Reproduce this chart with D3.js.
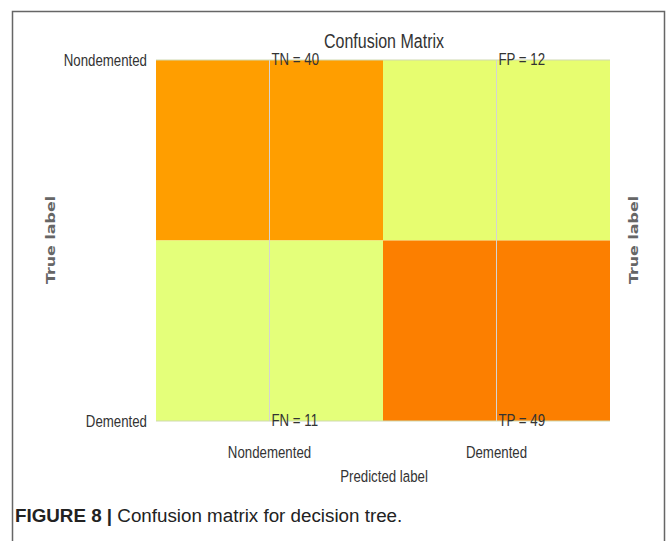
<!DOCTYPE html>
<html>
<head>
<meta charset="utf-8">
<script src="https://cdn.jsdelivr.net/npm/d3@7"></script>
<style>
  body { margin: 0; background: #fff; }
  svg { display: block; }
</style>
</head>
<body>
<svg width="670" height="541"></svg>
<script>
// data
const classes = ["Nondemented", "Demented"];
const counts = [[40, 12], [11, 49]];
const cellNames = [["TN", "FP"], ["FN", "TP"]];
const wistia = ["#e4ff7a", "#ffe81a", "#ffbd00", "#ffa000", "#fc7f00"];

const svg = d3.select("svg");
const FONT = "Liberation Sans, Arial, sans-serif";
const SQUEEZE = 0.78;

// condensed-looking text: squeeze horizontally around anchor point
function label(g, px, py, str, opts = {}) {
  return g.append("text")
    .attr("transform", `translate(${px},${py}) scale(${opts.sx || SQUEEZE},1)`)
    .attr("text-anchor", opts.anchor || "start")
    .attr("dy", opts.dy || null)
    .attr("font-family", FONT)
    .attr("font-size", opts.size || 17)
    .attr("fill", "#333")
    .text(str);
}

// outer frame
svg.append("path")
  .attr("d", "M12.5,541 V11.5 H664.5 V541")
  .attr("fill", "none")
  .attr("stroke", "#666")
  .attr("stroke-width", 1.5);

const x = d3.scaleBand(classes, [156, 610]);
const y = d3.scaleBand(classes, [60, 421]);
const yTick = d3.scaleLinear().domain([0, 1]).range([60, 421]);

const flat = counts.flatMap((row, i) => row.map((v, j) => ({
  v, name: cellNames[i][j], row: classes[i], col: classes[j], i, j
})));
const lo = d3.min(flat, d => d.v), hi = d3.max(flat, d => d.v);
const color = d3.scaleLinear()
  .domain(wistia.map((c, k) => lo + k * (hi - lo) / (wistia.length - 1)))
  .range(wistia);

svg.append("g").selectAll("rect").data(flat).join("rect")
  .attr("x", d => x(d.col))
  .attr("y", d => y(d.row))
  .attr("width", x.bandwidth())
  .attr("height", y.bandwidth())
  .attr("fill", d => color(d.v));

// grid
const grid = svg.append("g").attr("stroke-width", 1);
grid.selectAll(".gx").data(classes).join("line")
  .attr("x1", d => x(d) + x.bandwidth() / 2).attr("x2", d => x(d) + x.bandwidth() / 2)
  .attr("y1", 60).attr("y2", 421)
  .attr("stroke", "#d4d4d4");
grid.selectAll(".gy").data(yTick.domain()).join("line")
  .attr("x1", 156).attr("x2", 610)
  .attr("y1", d => yTick(d)).attr("y2", d => yTick(d))
  .attr("stroke", "#cfd9b0");

const txt = svg.append("g");

// y tick labels
classes.forEach((c, i) => label(txt, 147, yTick(i), c, { anchor: "end", dy: "0.35em" }));

// x tick labels
classes.forEach(c => label(txt, x(c) + x.bandwidth() / 2, 458, c, { anchor: "middle" }));

// cell annotations
flat.forEach(d => label(txt, x(d.col) + x.bandwidth() / 2 + 2, yTick(d.i), d.name + " = " + d.v, { dy: "0.3em" }));

// title, axis label
label(txt, 384, 48, "Confusion Matrix", { anchor: "middle", size: 20, sx: 0.8 });
label(txt, 384, 482, "Predicted label", { anchor: "middle" });

// True label on both sides
[50, 633].forEach(cx => {
  svg.append("text")
    .attr("transform", `translate(${cx},240) rotate(-90) scale(1.22,1)`)
    .attr("text-anchor", "middle")
    .attr("dy", "0.35em")
    .attr("font-family", "DejaVu Sans, sans-serif")
    .attr("font-weight", "bold")
    .attr("font-size", 13)
    .attr("fill", "#666")
    .text("True label");
});

// caption
const cap = svg.append("text")
  .attr("x", 15).attr("y", 522)
  .attr("font-family", FONT)
  .attr("font-size", 18.8)
  .attr("fill", "#222");
cap.append("tspan").attr("font-weight", "bold").text("FIGURE 8 | ");
cap.append("tspan").text("Confusion matrix for decision tree.");
</script>
</body>
</html>
